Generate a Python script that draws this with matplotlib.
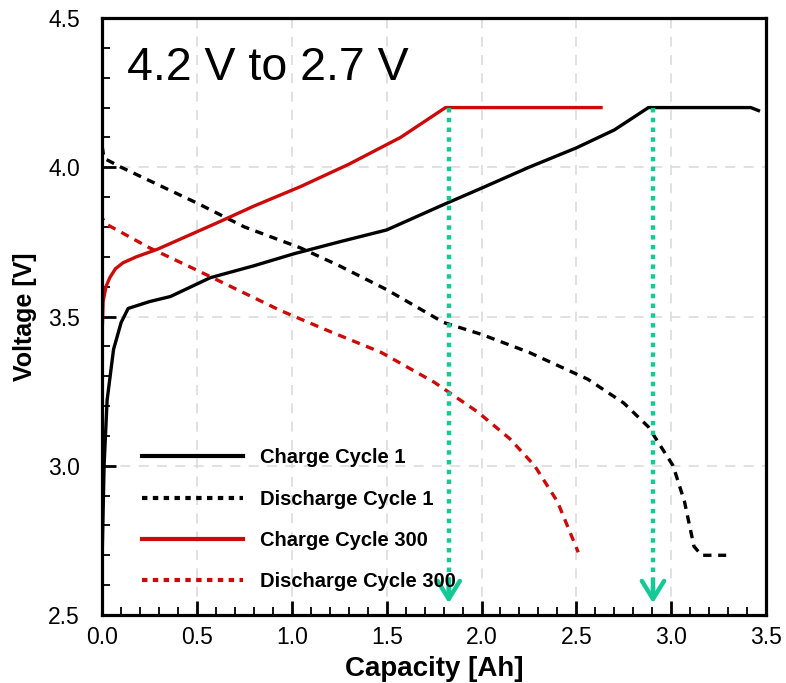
import matplotlib
matplotlib.use("Agg")
import matplotlib.pyplot as plt
from matplotlib.lines import Line2D
from matplotlib.ticker import MultipleLocator, FormatStrFormatter

# capacity [Ah] / voltage [V]
charge1_cap = [0.0, 0.01, 0.026, 0.06, 0.10, 0.137, 0.25, 0.36, 0.57, 0.8, 1.01,
               1.25, 1.5, 1.8, 2.0, 2.25, 2.5, 2.7, 2.88, 3.1, 3.3, 3.42, 3.46]
charge1_v = [2.7, 3.0, 3.22, 3.39, 3.48, 3.527, 3.55, 3.567, 3.63, 3.67, 3.71,
             3.75, 3.79, 3.875, 3.93, 4.0, 4.065, 4.125, 4.2, 4.2, 4.2, 4.2, 4.19]

discharge1_cap = [0.0, 0.01, 0.1, 0.3, 0.5, 0.75, 1.045, 1.25, 1.5, 1.8, 2.0, 2.25,
                  2.56, 2.75, 2.88, 3.01, 3.07, 3.12, 3.16, 3.29]
discharge1_v = [4.07, 4.03, 4.0, 3.94, 3.88, 3.80, 3.73, 3.67, 3.59, 3.48, 3.44, 3.38,
                3.29, 3.21, 3.13, 3.0, 2.88, 2.73, 2.70, 2.70]

charge300_cap = [0.0, 0.0, 0.005, 0.02, 0.04, 0.07, 0.11, 0.18, 0.29, 0.45, 0.61, 0.8,
                 1.045, 1.3, 1.573, 1.81, 2.2, 2.63]
charge300_v = [2.7, 3.45, 3.55, 3.6, 3.63, 3.66, 3.68, 3.70, 3.725, 3.77, 3.815, 3.87,
               3.935, 4.01, 4.10, 4.2, 4.2, 4.2]

discharge300_cap = [0.0, 0.0, 0.02, 0.25, 0.5, 0.94, 1.2, 1.47, 1.75, 1.98, 2.15,
                    2.28, 2.40, 2.51]
discharge300_v = [4.2, 3.83, 3.81, 3.73, 3.655, 3.52, 3.45, 3.38, 3.28, 3.18, 3.09,
                  3.0, 2.88, 2.71]

labels = ["Charge Cycle 1", "Discharge Cycle 1", "Charge Cycle 300", "Discharge Cycle 300"]

arrow_x = [1.827, 2.904]
arrow_top = 4.2
arrow_bottom = 2.53

title_text = "4.2 V to 2.7 V"

font = "Liberation Sans"
red = "#cc0a0a"
teal = "#14c996"

fig = plt.figure(figsize=(7.86, 6.83), dpi=100)
ax = fig.add_axes([0.130, 0.0996, 0.8446, 0.874])

ax.grid(True, which="major", color="#dcdcdc", linestyle=(0, (6, 5)), linewidth=1.2)
ax.set_axisbelow(True)

ax.plot(charge1_cap, charge1_v, color="black", lw=2.4)
ax.plot(discharge1_cap, discharge1_v, color="black", lw=2.4, linestyle=(0, (2.5, 2)))
ax.plot(charge300_cap, charge300_v, color=red, lw=2.4)
ax.plot(discharge300_cap, discharge300_v, color=red, lw=2.4, linestyle=(0, (2.5, 2)))

for x in arrow_x:
    ax.plot([x, x], [arrow_top, arrow_bottom + 0.03], color=teal, lw=3.2,
            linestyle=(0, (1, 1.2)))
    ax.annotate("", xy=(x, arrow_bottom), xytext=(x, arrow_bottom + 0.09),
                arrowprops=dict(arrowstyle="->,head_width=0.8,head_length=1.3",
                                color=teal, lw=3.2))

ax.text(0.13, 4.293, title_text, fontsize=33.5, family=font,
        va="baseline", ha="left")

ax.set_xlim(0, 3.5)
ax.set_ylim(2.5, 4.5)
ax.xaxis.set_major_locator(MultipleLocator(0.5))
ax.xaxis.set_minor_locator(MultipleLocator(0.1))
ax.yaxis.set_major_locator(MultipleLocator(0.5))
ax.yaxis.set_minor_locator(MultipleLocator(0.1))
ax.xaxis.set_major_formatter(FormatStrFormatter("%.1f"))
ax.yaxis.set_major_formatter(FormatStrFormatter("%.1f"))

ax.tick_params(which="both", direction="in", top=False, right=False)
ax.tick_params(which="major", length=10, width=2)
ax.tick_params(which="minor", length=6, width=1.3)
ax.tick_params(axis="y", pad=16)
ax.tick_params(axis="x", pad=8)
for lab in ax.get_xticklabels() + ax.get_yticklabels():
    lab.set_family(font)
    lab.set_fontsize(16.5)

for sp in ax.spines.values():
    sp.set_linewidth(2.3)

ax.set_xlabel("Capacity [Ah]", family=font, fontsize=20, fontweight="bold", labelpad=5)
ax.set_ylabel("Voltage [V]", family=font, fontsize=18, fontweight="bold", labelpad=8)

handles = [
    Line2D([], [], color="black", lw=3),
    Line2D([], [], color="black", lw=3, linestyle=(0, (1.3, 1.3))),
    Line2D([], [], color=red, lw=3),
    Line2D([], [], color=red, lw=3, linestyle=(0, (1.3, 1.3))),
]
ax.legend(handles, labels, loc="upper left", bbox_to_anchor=(0.06, 0.279),
          frameon=False, borderpad=0, borderaxespad=0, handlelength=5.0,
          handletextpad=0.85, labelspacing=1.1,
          prop=dict(family=font, size=14.5, weight="bold"))

fig.savefig("out.png", dpi=100)
